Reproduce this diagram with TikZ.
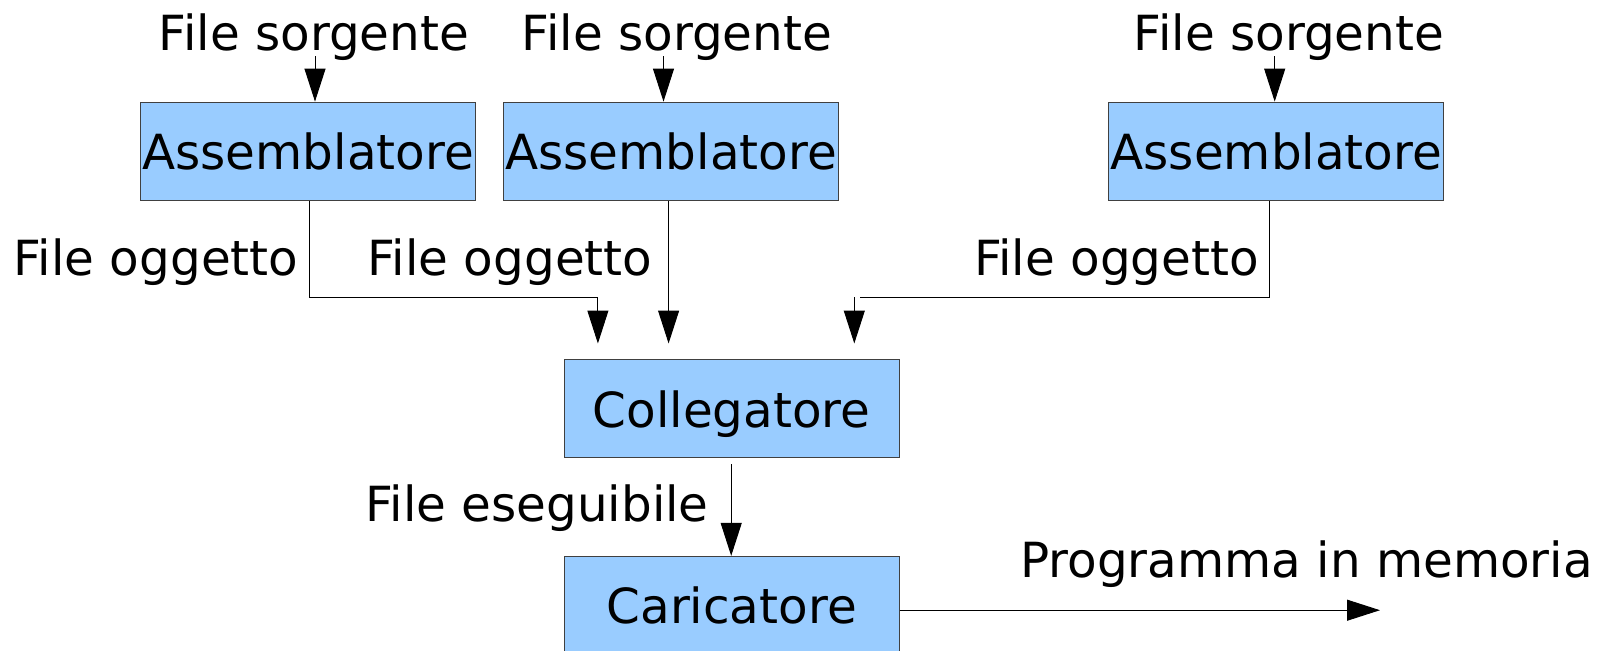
\documentclass[tikz,border=0pt]{standalone}
\usepackage{fontspec}
\setmainfont{DejaVu Sans}
\usetikzlibrary{arrows.meta}
\definecolor{boxblue}{HTML}{99CCFF}
\definecolor{boxline}{HTML}{404040}
\tikzset{
  every node/.style={font=\fontsize{24.2}{29}\selectfont, inner sep=0pt},
  stagebox/.style={draw=boxline, line width=0.6pt, fill=boxblue,
    minimum width=167.5pt, minimum height=49pt, anchor=center, text depth=0pt},
  flowlabel/.style={anchor=base},
  conn/.style={draw=black, line width=0.5pt},
  arr/.style={conn, -{Triangle[length=16.5pt, width=10.5pt]}}
}
\begin{document}
\begin{tikzpicture}[x=0.5pt, y=-0.5pt]
  \useasboundingbox (0,0) rectangle (1608,650);
  \clip (0,0) rectangle (1608,650);

  % processing stages
  \node[stagebox] (a1) at (308.2,151.2) {Assemblatore};
  \node[stagebox] (a2) at (671.2,151.2) {Assemblatore};
  \node[stagebox] (a3) at (1276.3,151.2) {Assemblatore};
  \node[stagebox] (coll) at (731.7,408.7) {Collegatore};
  \node[stagebox] (car) at (731.7,605.5) {Caricatore};

  % labels
  \node[flowlabel] (s1) at (314,50) {File sorgente};
  \node[flowlabel] (s2) at (677,50) {File sorgente};
  \node[flowlabel] (s3) at (1289,50) {File sorgente};
  \node[flowlabel] (o1) at (156,275) {File oggetto};
  \node[flowlabel] (o2) at (510,275) {File oggetto};
  \node[flowlabel] (o3) at (1116.5,275) {File oggetto};
  \node[flowlabel] (ex) at (537,521) {File eseguibile};
  \node[flowlabel] (pm) at (1306.5,577) {Programma in memoria};

  % source files into the assemblers
  \coordinate (in1) at (315,56);
  \coordinate (in2) at (663.5,56);
  \coordinate (in3) at (1274.7,56);
  \draw[arr] (in1) -- (in1 |- a1.north);
  \draw[arr] (in2) -- (in2 |- a2.north);
  \draw[arr] (in3) -- (in3 |- a3.north);

  % object files towards the linker
  \coordinate (x1) at (309.7,0);
  \coordinate (k1) at (597.9,297.4);
  \coordinate (t1) at (597.9,343.5);
  \draw[arr] (a1.south -| x1) |- (k1) -- (t1);

  \coordinate (x2) at (668.6,0);
  \coordinate (t2) at (668.6,343.5);
  \draw[arr] (a2.south -| x2) -- (t2);

  \coordinate (x3) at (1269.6,0);
  \coordinate (k3) at (860,297.4);
  \coordinate (k3b) at (854.3,297.4);
  \coordinate (t3) at (854.3,343.5);
  \draw[conn] (a3.south -| x3) |- (k3);
  \draw[arr] (k3b) -- (t3);

  % executable into the loader
  \coordinate (ee) at (731.2,464);
  \draw[arr] (ee) -- (ee |- car.north);

  % program loaded in memory
  \coordinate (mem) at (1380,610.2);
  \draw[arr] (car.east |- mem) -- (mem);
\end{tikzpicture}
\end{document}
